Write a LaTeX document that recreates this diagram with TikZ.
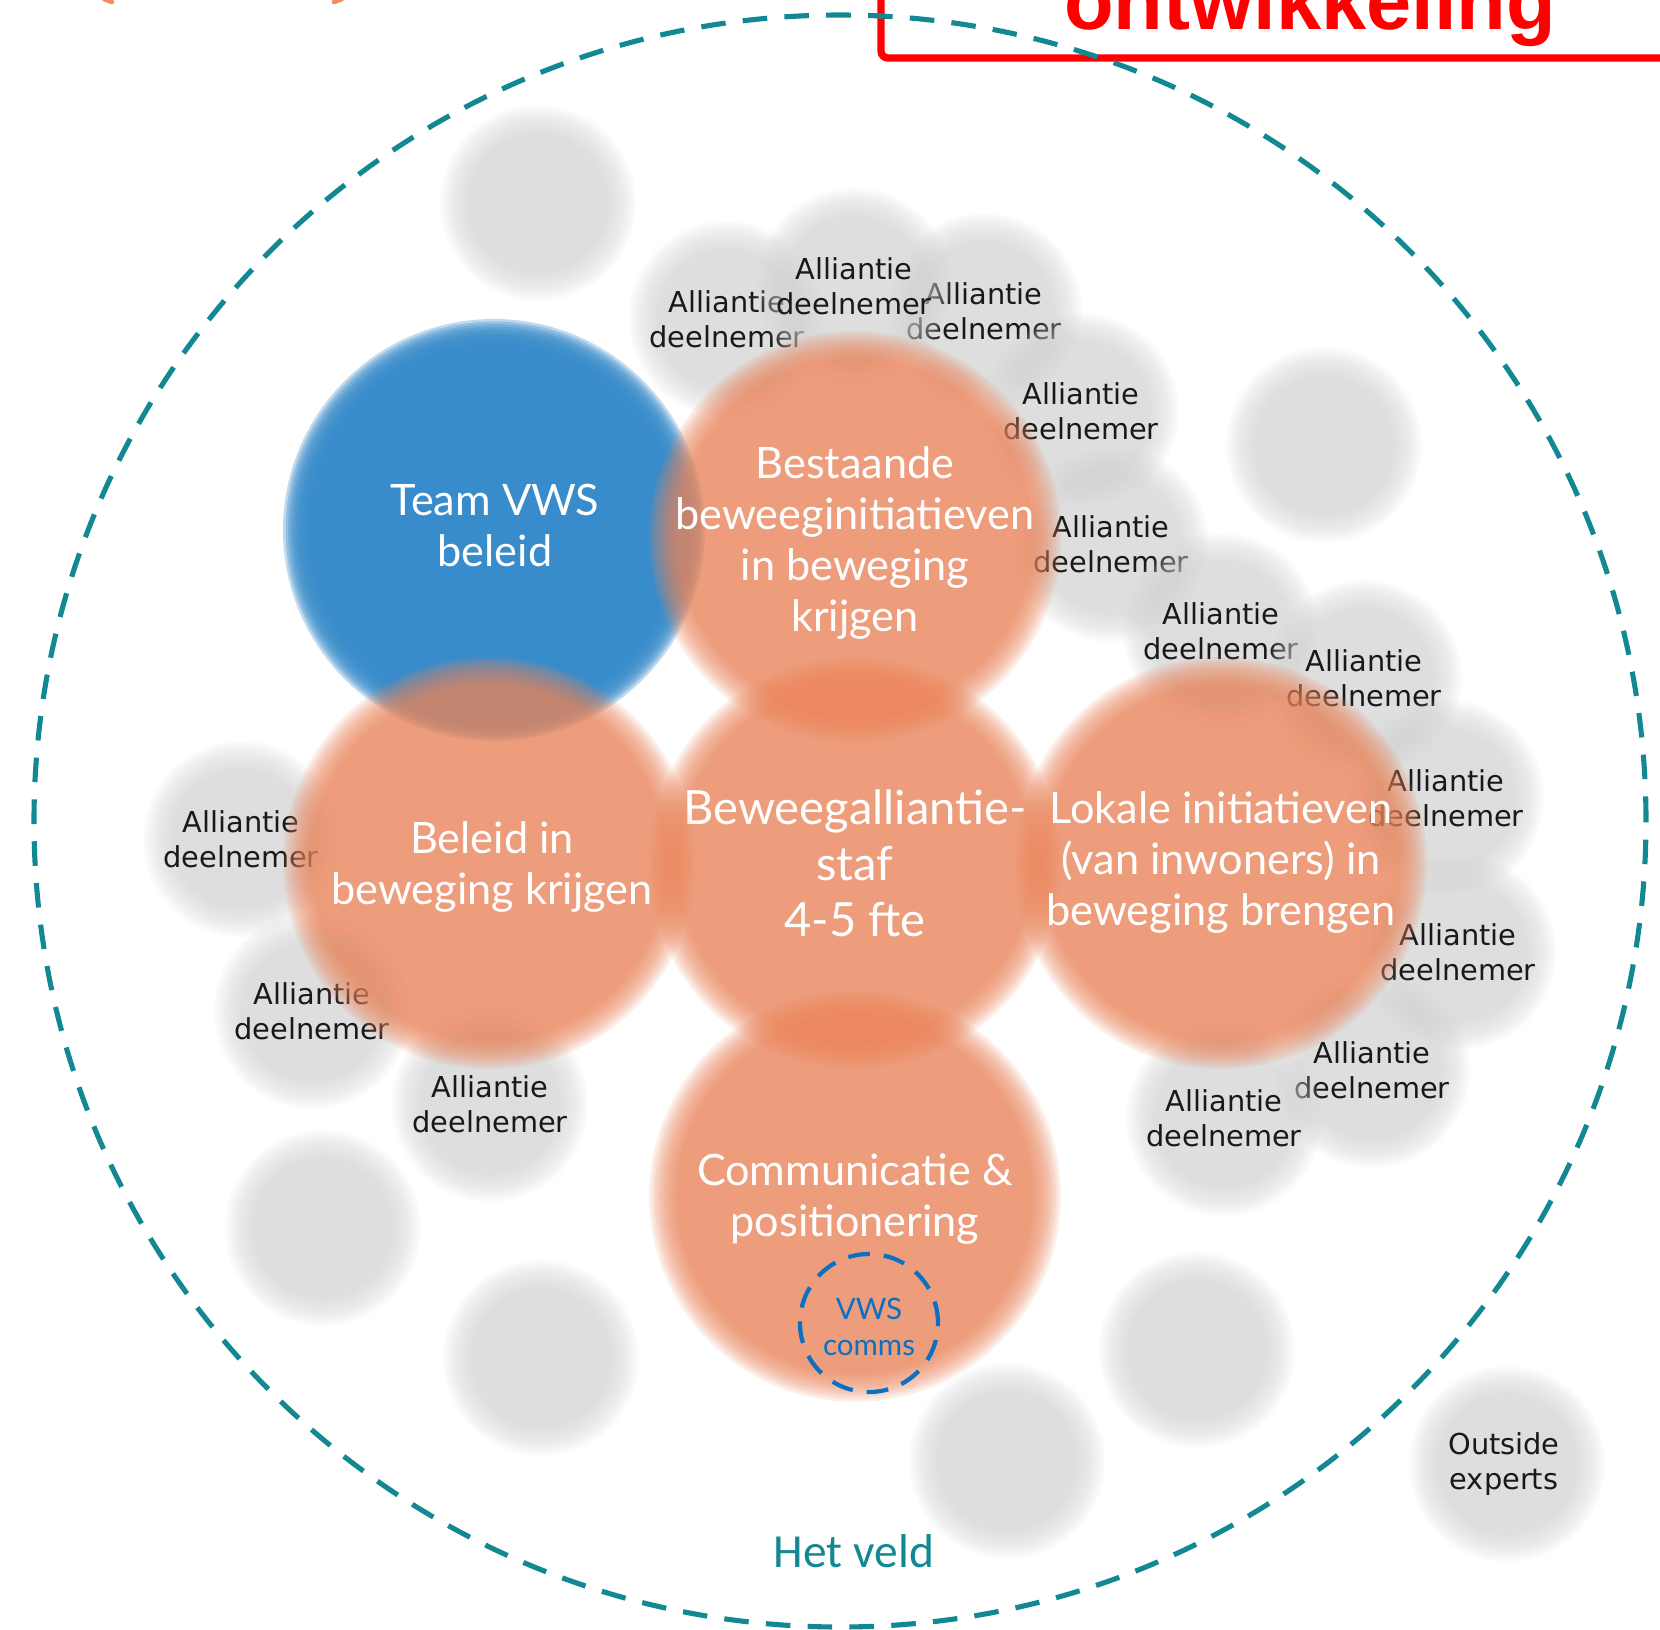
\documentclass[tikz,border=0pt]{standalone}
\usepackage{fontspec}
\newfontfamily\dejavu{DejaVu Sans}
\newfontfamily\lato{Lato}
\newfontfamily\carlito{Carlito}
\newfontfamily\libsans{Liberation Sans}

\definecolor{fieldteal}{RGB}{18,136,146}
\definecolor{bubgray}{RGB}{212,212,212}
\definecolor{bubpeach}{RGB}{236,133,90}
\definecolor{bubblue}{RGB}{56,140,203}
\definecolor{commsblue}{RGB}{10,112,196}
\definecolor{titlered}{RGB}{255,0,0}
\definecolor{arcorange}{RGB}{245,140,95}

% soft-edged disk: twelve stacked translucent fills from r+14 down to r-14
\newcommand{\softdisk}[5]{%
  \foreach \k in {0,...,11}{%
    \fill[#4, opacity=#5] (#1,#2) circle[radius={#3+14-2.545*\k}];}}
\newcommand{\graybub}[2]{\softdisk{#1}{#2}{84}{bubgray}{0.086}}
\newcommand{\peachbub}[2]{\softdisk{#1}{#2}{192}{bubpeach}{0.119}}

\tikzset{
  allabel/.style={font=\dejavu\fontsize{8.2}{10}\selectfont, align=center, text=black!90, inner sep=0pt},
  bublabel/.style={font=\lato\fontsize{12.3}{14.5}\selectfont, align=center, text=white, inner sep=0pt},
  staflabel/.style={font=\lato\fontsize{13.4}{15.9}\selectfont, align=center, text=white, inner sep=0pt},
  commslabel/.style={font=\lato\fontsize{8.4}{10.2}\selectfont, align=center, text=commsblue, inner sep=0pt},
  veldlabel/.style={font=\carlito\fontsize{13.5}{16}\selectfont, text=fieldteal, inner sep=0pt},
  titlelabel/.style={font=\libsans\bfseries\fontsize{23.1}{27}\selectfont, text=titlered, inner sep=0pt},
  fieldring/.style={draw=fieldteal, line width=1.45pt, dash pattern=on 7pt off 4.9pt},
  commsring/.style={draw=commsblue, line width=1.2pt, dash pattern=on 6.2pt off 4pt},
}

\begin{document}
\begin{tikzpicture}[x=0.01cm, y=0.01cm]
\useasboundingbox (0,0) rectangle (1660,-1630);
\clip (0,0) rectangle (1660,-1630);
\fill[white] (0,0) rectangle (1660,-1630);

% fragments of shapes above the frame
\draw[arcorange, line width=1.3pt, line cap=round] (104,1) -- (112,-2);
\draw[arcorange, line width=1.3pt, line cap=round] (342,1) -- (334,-2);

% title frame
\draw[titlered, line width=2.1pt, rounded corners=2pt] (881,10) -- (881,-58) -- (1680,-58);
\node[titlelabel, anchor=base] (title) at (1310,-29) {ontwikkeling};

% empty field bubbles
\graybub{538}{-203}
\graybub{1324}{-445}
\graybub{323}{-1228}
\graybub{541}{-1358}
\graybub{1007}{-1461}
\graybub{1197}{-1350}
\graybub{1507}{-1464}
\node[allabel] (experts) at (1504,-1464) {Outside\\experts};

% alliance members
\graybub{727}{-319}
\node[allabel] (m1) at (727,-319) {Alliantie\\deelnemer};
\graybub{984}{-311}
\node[allabel] (m3) at (984,-311) {Alliantie\\deelnemer};
\graybub{854}{-286}
\node[allabel] (m2) at (854,-286) {Alliantie\\deelnemer};
\graybub{1081}{-411}
\node[allabel] (m4) at (1081,-411) {Alliantie\\deelnemer};
\graybub{1111}{-544}
\node[allabel] (m5) at (1111,-544) {Alliantie\\deelnemer};
\graybub{1221}{-631}
\node[allabel] (m6) at (1221,-631) {Alliantie\\deelnemer};
\graybub{1364}{-678}
\node[allabel] (m7) at (1364,-678) {Alliantie\\deelnemer};
\graybub{1446}{-798}
\node[allabel] (m8) at (1446,-798) {Alliantie\\deelnemer};
\graybub{1458}{-952}
\node[allabel] (m9) at (1458,-952) {Alliantie\\deelnemer};
\graybub{1372}{-1070}
\node[allabel] (m10) at (1372,-1070) {Alliantie\\deelnemer};
\graybub{1224}{-1118}
\node[allabel] (m11) at (1224,-1118) {Alliantie\\deelnemer};
\graybub{241}{-839}
\node[allabel] (m12) at (241,-839) {Alliantie\\deelnemer};
\graybub{312}{-1011}
\node[allabel] (m13) at (312,-1011) {Alliantie\\deelnemer};
\graybub{490}{-1104}
\node[allabel] (m14) at (490,-1104) {Alliantie\\deelnemer};

% ministry team
\softdisk{494}{-530}{197}{bubblue}{0.32}
\node[bublabel] (vws) at (495,-525) {Team VWS\\beleid};

% alliance staff and its work streams
\peachbub{855}{-863}
\node[staflabel] (staf) at (855,-863) {Beweegalliantie-\\staf\\4-5 fte};
\peachbub{855}{-537}
\node[bublabel] (bestaande) at (855,-543) {Bestaande\\beweeginitiatieven\\in beweging\\krijgen};
\peachbub{489}{-863}
\node[bublabel] (beleid) at (492,-867) {Beleid in\\beweging krijgen};
\peachbub{1221}{-863}
\node[bublabel] (lokale) at (1221,-863) {Lokale initiatieven\\(van inwoners) in\\beweging brengen};
\peachbub{855}{-1196}
\node[bublabel] (comm) at (855,-1199) {Communicatie \&\\positionering};

% ministry communications inside the communication stream
\draw[commsring] (869,-1323) circle[radius=69];
\node[commslabel] (comms) at (869,-1327) {VWS\\comms};

% the field
\draw[fieldring] (840,-821) circle[radius=806];
\node[veldlabel] (veld) at (854,-1551) {Het veld};
\end{tikzpicture}
\end{document}
